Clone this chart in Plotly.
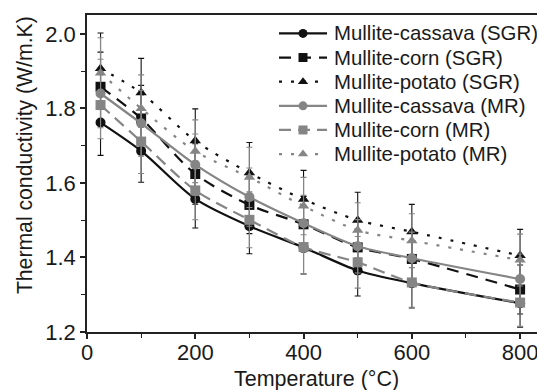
import plotly.graph_objects as go

T = [25, 100, 200, 300, 400, 500, 600, 800]
sgr_cassava = [1.762, 1.686, 1.557, 1.484, 1.427, 1.365, 1.331, 1.277]
sgr_corn = [1.858, 1.773, 1.624, 1.541, 1.489, 1.427, 1.396, 1.314]
sgr_potato = [1.907, 1.842, 1.713, 1.627, 1.556, 1.500, 1.469, 1.405]
mr_cassava = [1.840, 1.760, 1.649, 1.562, 1.492, 1.430, 1.398, 1.342]
mr_corn = [1.809, 1.711, 1.580, 1.501, 1.428, 1.387, 1.333, 1.279]
mr_potato = [1.895, 1.800, 1.685, 1.615, 1.538, 1.473, 1.445, 1.393]
ERR_PCT = 5

names = ["Mullite-cassava (SGR)", "Mullite-corn (SGR)", "Mullite-potato (SGR)",
         "Mullite-cassava (MR)", "Mullite-corn (MR)", "Mullite-potato (MR)"]
series = [sgr_cassava, sgr_corn, sgr_potato, mr_cassava, mr_corn, mr_potato]
BLACK = "#111111"
GRAY = "#858585"
styles = [
    (BLACK, "solid", "circle"),
    (BLACK, "12px,8px", "square"),
    (BLACK, "3px,9px", "triangle-up"),
    (GRAY, "solid", "circle"),
    (GRAY, "12px,7px", "square"),
    (GRAY, "3px,9px", "triangle-up"),
]

# page body has an 8px default margin: work in screen pixels, shift by OFF
OFF = 8
FW, FH = 545, 390
L, R, TOP, BOT = 87 - OFF, 545 - OFF, 13 - OFF, 332 - OFF
W, H = R - L, BOT - TOP


def px_x(sx):
    return (sx - OFF - L) / W


def px_y(sy):
    return (BOT - (sy - OFF)) / H


fig = go.Figure()
for name, ys, (col, dash, sym) in zip(names, series, styles):
    fig.add_trace(go.Scatter(
        x=T, y=ys, name=name, mode="lines+markers", showlegend=False,
        line=dict(color=col, width=2.2, dash=dash, shape="spline", smoothing=0.8),
        marker=dict(color=col, symbol=sym, size=10),
        error_y=dict(type="percent", value=ERR_PCT, color=col, thickness=1.1, width=3),
    ))

font = "Liberation Sans, Arial, sans-serif"
annotations = []
for i, (name, (col, dash, sym)) in enumerate(zip(names, styles)):
    yp = px_y(31.5 + 24.3 * i)
    x0, x1 = px_x(279), px_x(327)
    fig.add_trace(go.Scatter(
        x=[x0, x1], y=[yp, yp], xaxis="x2", yaxis="y2", mode="lines",
        line=dict(color=col, width=2.2, dash=dash), showlegend=False, hoverinfo="skip"))
    fig.add_trace(go.Scatter(
        x=[(x0 + x1) / 2], y=[yp], xaxis="x2", yaxis="y2", mode="markers",
        marker=dict(color=col, symbol=sym, size=9), showlegend=False, hoverinfo="skip"))
    annotations.append(dict(
        text=name, x=px_x(332), y=yp, xref="paper", yref="paper",
        xanchor="left", yanchor="middle", showarrow=False,
        font=dict(size=20.4, family=font, color="#1a1a1a")))

annotations.append(dict(
    text="Temperature (°C)", x=px_x(316), y=px_y(379), xref="paper", yref="paper",
    xanchor="center", yanchor="middle", showarrow=False,
    font=dict(size=21.5, family=font, color="#1a1a1a")))
annotations.append(dict(
    text="Thermal conductivity (W/m.K)", x=px_x(25), y=px_y(154),
    xref="paper", yref="paper", textangle=-90,
    xanchor="center", yanchor="middle", showarrow=False,
    font=dict(size=21.2, family=font, color="#1a1a1a")))

fig.update_layout(
    width=FW, height=FH,
    margin=dict(l=L, r=FW - R, t=TOP, b=FH - BOT),
    paper_bgcolor="white", plot_bgcolor="white",
    font=dict(family=font, size=22, color="#1a1a1a"),
    showlegend=False,
    annotations=annotations,
    xaxis=dict(
        range=[0, 846], dtick=200, tick0=0,
        showgrid=False, zeroline=False,
        showline=True, linecolor="#222", linewidth=1.5, mirror=True,
        ticks="outside", ticklen=5, tickcolor="#222", tickwidth=1.5,
        minor=dict(dtick=100, ticks="outside", ticklen=4, tickcolor="#222", tickwidth=1.2),
        tickfont=dict(size=22), ticklabelstandoff=-5,
    ),
    yaxis=dict(
        range=[1.2, 2.0506], dtick=0.2, tick0=1.2, tickformat=".1f",
        showgrid=False, zeroline=False,
        showline=True, linecolor="#222", linewidth=1.5,
        ticks="outside", ticklen=5, tickcolor="#222", tickwidth=1.5,
        minor=dict(dtick=0.1, ticks="outside", ticklen=4, tickcolor="#222", tickwidth=1.2),
        tickfont=dict(size=22),
    ),
    xaxis2=dict(overlaying="x", range=[0, 1], visible=False, fixedrange=True),
    yaxis2=dict(overlaying="y", range=[0, 1], visible=False, fixedrange=True),
)

fig.write_html("out.html")
